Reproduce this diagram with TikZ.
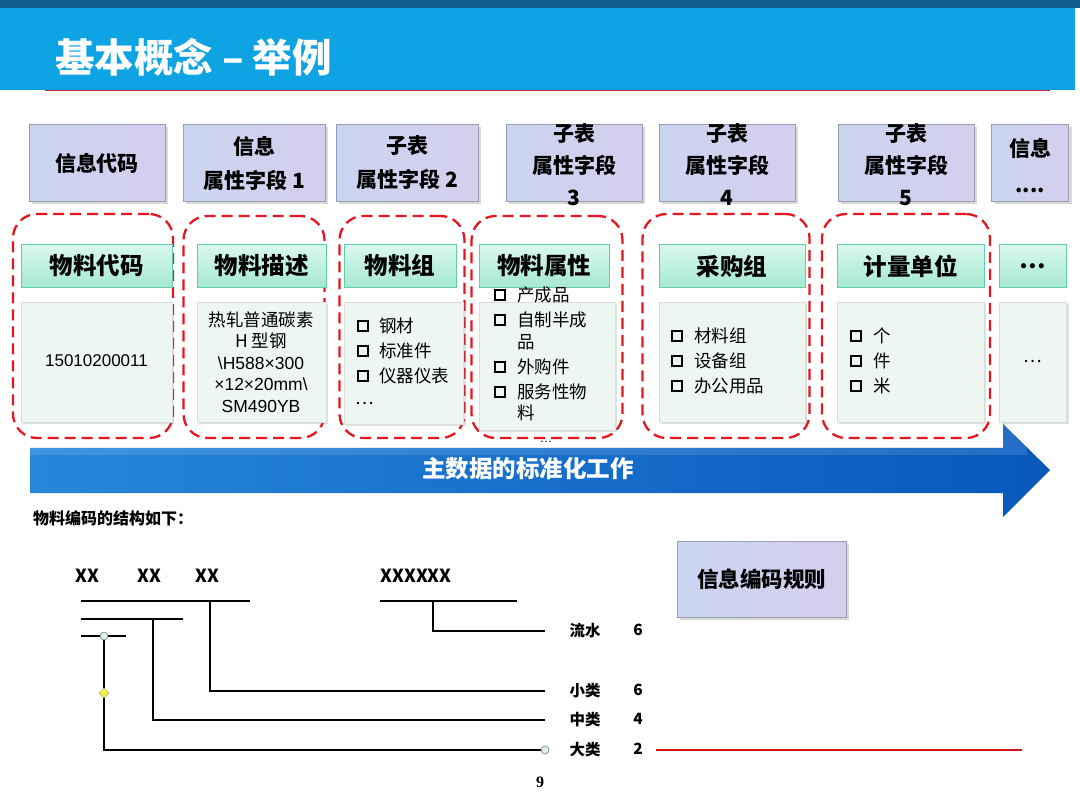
\documentclass[tikz,border=0pt]{standalone}
\usepackage{fontspec}
\setmainfont{Noto Sans CJK SC}
\newfontfamily\numfont{Liberation Serif}
\newfontfamily\latfont{Liberation Sans}
\usetikzlibrary{shadows,shapes.geometric}
\definecolor{topstrip}{RGB}{18,92,140}
\definecolor{titlebar}{RGB}{14,163,226}
\definecolor{redline}{RGB}{190,40,60}
\definecolor{dashred}{RGB}{228,22,32}
\definecolor{texfill}{RGB}{202,213,240}
\definecolor{texfill2}{RGB}{214,206,238}
\definecolor{texdraw}{RGB}{150,158,178}
\definecolor{hdtop}{RGB}{218,248,238}
\definecolor{hdbot}{RGB}{165,232,208}
\definecolor{hddraw}{RGB}{100,205,172}
\definecolor{cfill}{RGB}{238,246,242}
\definecolor{arrL}{RGB}{38,135,218}
\definecolor{arrR}{RGB}{8,88,188}
\definecolor{circfill}{RGB}{215,240,235}
\definecolor{diafill}{RGB}{250,240,60}
\definecolor{rulered}{RGB}{210,20,20}
\begin{document}
\begin{tikzpicture}[x=1pt,y=-1pt,
  texbox/.style={draw=texdraw, line width=0.8pt, left color=texfill, right color=texfill2,
    drop shadow={shadow xshift=3pt,shadow yshift=-3pt,opacity=0.3}, inner sep=0pt},
  textxt/.style={align=center, font=\fontsize{21}{34}\selectfont\bfseries, inner sep=0pt},
  dbox/.style={draw=dashred, line width=2.3pt, dash pattern=on 11pt off 6pt, rounded corners=24pt, inner sep=0pt},
  hdbox/.style={draw=hddraw, line width=1pt, top color=hdtop, bottom color=hdbot, inner sep=0pt,
    font=\fontsize{23.5}{26}\selectfont\bfseries},
  cbox/.style={fill=cfill, draw=cfill!80!gray, line width=0.3pt,
    drop shadow={shadow xshift=2pt,shadow yshift=-2pt,opacity=0.25}, inner sep=0pt},
  ctxt/.style={font=\fontsize{17.5}{21.5}\selectfont, inner sep=0pt},
  chk/.style={draw=black, line width=2pt, minimum size=10pt, inner sep=0pt},
  itm/.style={anchor=west, font=\fontsize{17.5}{20}\selectfont, inner sep=0pt},
  codetxt/.style={font=\fontsize{18}{20}\selectfont\bfseries, inner sep=0pt},
  lbl/.style={font=\fontsize{15.5}{18}\selectfont\bfseries, inner sep=0pt},
  tree/.style={draw=black, line width=1.5pt},
  circ/.style={circle, draw=gray, fill=circfill, line width=0.6pt, minimum size=8pt, inner sep=0pt},
  dia/.style={diamond, draw=gray!80!yellow, fill=diafill, line width=0.5pt, minimum size=10pt, inner sep=0pt}
]
\useasboundingbox (0,0) rectangle (1080,810);
\fill[white] (0,0) rectangle (1080,810);
% title bar
\fill[topstrip] (0,0) rectangle (1080,8);
\fill[titlebar] (0,8) rectangle (1075,90);
\coordinate (tl1) at (45,90.5);
\coordinate (tl2) at (1050,90.5);
\draw[redline, line width=1.2pt] (tl1) -- (tl2);
\node[anchor=west, text=white, font=\fontsize{39.5}{42}\selectfont\bfseries, inner sep=0pt] (title) at (55,57) {基本概念 – 举例};

% top textured boxes
\node[texbox, minimum width=136pt, minimum height=77pt] (t1) at (97,163) {};
\node[textxt] (t1t) at (t1.center) {信息代码};
\node[texbox, minimum width=142pt, minimum height=77pt] (t2) at (254,163) {};
\node[textxt] (t2t) at (t2.center) {信息\\属性字段 1};
\node[texbox, minimum width=142pt, minimum height=77pt] (t3) at (407,163) {};
\node[textxt] (t3t) at (t3.center) {子表\\属性字段 2};
\node[texbox, minimum width=136pt, minimum height=77pt] (t4) at (574,163) {};
\node[textxt, font=\fontsize{21}{32}\selectfont\bfseries] (t4t) at (574,165) {子表\\属性字段\\3};
\node[texbox, minimum width=136pt, minimum height=77pt] (t5) at (727,163) {};
\node[textxt, font=\fontsize{21}{32}\selectfont\bfseries] (t5t) at (727,165) {子表\\属性字段\\4};
\node[texbox, minimum width=136pt, minimum height=77pt] (t6) at (906,163) {};
\node[textxt, font=\fontsize{21}{32}\selectfont\bfseries] (t6t) at (906,165) {子表\\属性字段\\5};
\node[texbox, minimum width=77pt, minimum height=77pt] (t7) at (1030,163) {};
\node[textxt, font=\fontsize{21}{36}\selectfont\bfseries] (t7t) at (1030,166) {信息\\....};

% dashed groups
\node[dbox, minimum width=160pt, minimum height=224pt] (g1) at (93,326) {};
\node[dbox, minimum width=141pt, minimum height=222pt] (g2) at (254,327) {};
\node[dbox, minimum width=125pt, minimum height=222pt] (g3) at (402,327) {};
\node[dbox, minimum width=151pt, minimum height=222pt] (g4) at (547,327) {};
\node[dbox, minimum width=167pt, minimum height=224pt] (g5) at (726,326) {};
\node[dbox, minimum width=168pt, minimum height=224pt] (g6) at (906,326) {};

% content boxes
\node[cbox, minimum width=151pt, minimum height=120pt] (c1) at (96.5,362) {};
\node[cbox, minimum width=129pt, minimum height=120pt] (c2) at (261.5,362) {};
\node[cbox, minimum width=119pt, minimum height=122pt] (c3) at (404,363) {};
\node[cbox, minimum width=136pt, minimum height=128pt] (c4) at (547,366) {};
\node[cbox, minimum width=146pt, minimum height=120pt] (c5) at (732,362) {};
\node[cbox, minimum width=147pt, minimum height=120pt] (c6) at (910.5,362) {};
\node[cbox, minimum width=67pt, minimum height=120pt] (c7) at (1033,362) {};

% headers
\node[hdbox, minimum width=151pt, minimum height=43pt] (h1) at (96.5,266) {物料代码};
\node[hdbox, minimum width=129pt, minimum height=43pt] (h2) at (261.5,266) {物料描述};
\node[hdbox, minimum width=112pt, minimum height=43pt] (h3) at (400,266) {物料组};
\node[hdbox, minimum width=130pt, minimum height=43pt] (h4) at (544,266) {物料属性};
\node[hdbox, minimum width=146pt, minimum height=43pt] (h5) at (732,266) {采购组};
\node[hdbox, minimum width=147pt, minimum height=43pt] (h6) at (910.5,266) {计量单位};
\node[hdbox, minimum width=67pt, minimum height=43pt] (h7) at (1033,266) {…};

% content texts
\node[ctxt, font=\latfont\fontsize{17}{21.5}\selectfont] (c1t) at (96.5,361) {15010200011};
\node[ctxt, align=center] (c2t) at (261,362) {热轧普通碳素\\H 型钢\\{\latfont\textbackslash H588×300}\\{\latfont×12×20mm\textbackslash}\\{\latfont SM490YB}};
% group 3 list
\node[chk] (k3a) at (363,326) {}; \node[itm] (i3a) at (379,326) {钢材};
\node[chk] (k3b) at (363,351) {}; \node[itm] (i3b) at (379,351) {标准件};
\node[chk] (k3c) at (363,376) {}; \node[itm] (i3c) at (379,376) {仪器仪表};
\node[itm] (i3d) at (355,404) {…};
% group 4 list
\node[chk] (k4a) at (500,295) {}; \node[itm] (i4a) at (517,295) {产成品};
\node[chk] (k4b) at (500,320) {}; \node[itm] (i4b) at (517,320) {自制半成};
\node[itm] (i4b2) at (517,342) {品};
\node[chk] (k4c) at (500,367) {}; \node[itm] (i4c) at (517,367) {外购件};
\node[chk] (k4d) at (500,392) {}; \node[itm] (i4d) at (517,392) {服务性物};
\node[itm] (i4d2) at (517,413) {料};
\node[itm, font=\fontsize{11}{12}\selectfont] (i4e) at (540,442) {…};
% group 5 list
\node[chk] (k5a) at (677,336) {}; \node[itm] (i5a) at (694,336) {材料组};
\node[chk] (k5b) at (677,361) {}; \node[itm] (i5b) at (694,361) {设备组};
\node[chk] (k5c) at (677,386) {}; \node[itm] (i5c) at (694,386) {办公用品};
% group 6 list
\node[chk] (k6a) at (856,336) {}; \node[itm] (i6a) at (873,336) {个};
\node[chk] (k6b) at (856,361) {}; \node[itm] (i6b) at (873,361) {件};
\node[chk] (k6c) at (856,386) {}; \node[itm] (i6c) at (873,386) {米};
\node[ctxt] (c7t) at (1033,362) {…};

% big arrow
\shade[left color=arrL, right color=arrR]
  (30,448) -- (1003,448) -- (1003,424) -- (1050,470) -- (1003,517) -- (1003,493) -- (30,493) -- cycle;
\fill[white, opacity=0.12] (30,448) -- (1003,448) -- (1003,424) -- (1027,448.5) -- (1027,455) -- (30,455) -- cycle;
\node[text=white, font=\fontsize{23.5}{26}\selectfont\bfseries, inner sep=0pt] (arrtxt) at (528,469) {主数据的标准化工作};

% structure heading
\node[anchor=west, font=\fontsize{16}{18}\selectfont\bfseries, inner sep=0pt] (sthead) at (33,518) {物料编码的结构如下：};

% code structure
\node[codetxt] (x1) at (87,576) {XX};
\node[codetxt] (x2) at (149,576) {XX};
\node[codetxt] (x3) at (207,576) {XX};
\node[codetxt] (x4) at (416,576) {XXXXXX};

\coordinate (h1a) at (81,601); \coordinate (h1b) at (250,601);
\coordinate (h2a) at (81,619); \coordinate (h2b) at (183,619);
\coordinate (h3a) at (81,636); \coordinate (h3b) at (126,636);
\coordinate (h4a) at (380,601); \coordinate (h4b) at (517,601);
\coordinate (d1) at (433,601); \coordinate (d2) at (210,601);
\coordinate (d3) at (153,619); \coordinate (d4) at (104,636);
\coordinate (e1) at (545,631); \coordinate (e2) at (545,691);
\coordinate (e3) at (545,720); \coordinate (e4) at (545,750);
\draw[tree] (h1a) -- (h1b);
\draw[tree] (h2a) -- (h2b);
\draw[tree] (h3a) -- (h3b);
\draw[tree] (h4a) -- (h4b);
\draw[tree] (d1) |- (e1);
\draw[tree] (d2) |- (e2);
\draw[tree] (d3) |- (e3);
\draw[tree] (d4) |- (e4);
\node[circ] (cA) at (d4) {};
\node[circ] (cB) at (e4) {};
\node[dia] (dm) at (104,693) {};

\node[lbl] (l1) at (585,631) {流水}; \node[lbl] (n1) at (638,630) {6};
\node[lbl] (l2) at (585,691) {小类}; \node[lbl] (n2) at (638,690) {6};
\node[lbl] (l3) at (585,720) {中类}; \node[lbl] (n3) at (638,719) {4};
\node[lbl] (l4) at (585,750) {大类}; \node[lbl] (n4) at (638,749) {2};
\coordinate (r1) at (656,750); \coordinate (r2) at (1022,750);
\draw[rulered, line width=1.8pt] (r1) -- (r2);

% info rule box
\node[texbox, minimum width=169pt, minimum height=76pt] (rule) at (761.5,579) {};
\node[textxt, font=\fontsize{21.5}{24}\selectfont\bfseries] (rulet) at (rule.center) {信息编码规则};

% page number
\node[font=\numfont\fontsize{16}{18}\selectfont\bfseries, inner sep=0pt] (pg) at (540,782) {9};
\end{tikzpicture}
\end{document}
